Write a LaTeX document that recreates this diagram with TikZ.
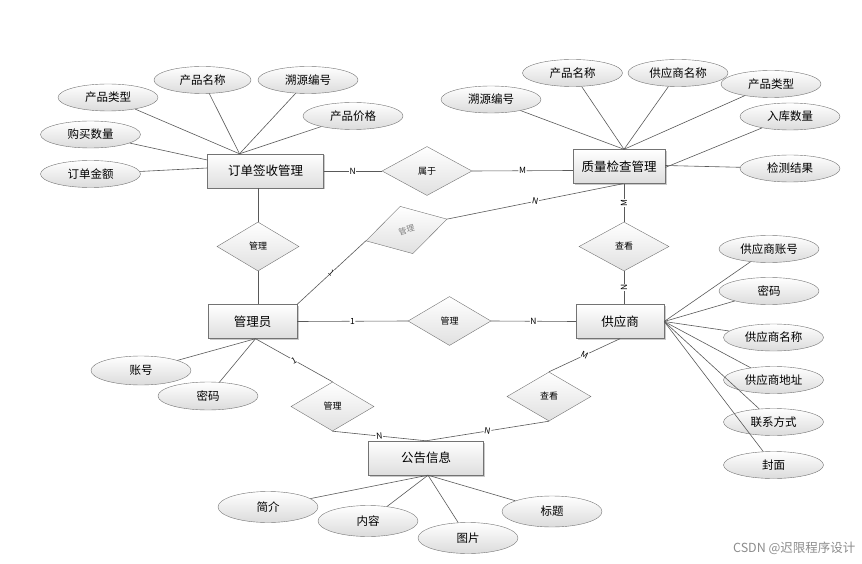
\documentclass[tikz,border=0pt]{standalone}
\usepackage{fontspec}
\setmainfont{Noto Sans CJK SC}
\usetikzlibrary{shapes.geometric,shadows,calc}

\tikzset{
  entity/.style={draw=black!55, top color=white, bottom color=black!13, minimum height=34pt, inner sep=0pt,
    font=\fontsize{12.5}{12.5}\selectfont, drop shadow={shadow xshift=1.5pt, shadow yshift=-1.5pt, fill=black!35, opacity=0.6}},
  attr/.style={ellipse, draw=black!55, top color=white, bottom color=black!14, minimum width=100pt, minimum height=27pt,
    inner sep=0pt, font=\fontsize{11.5}{11.5}\selectfont},
  rel/.style={diamond, draw=black!55, top color=white, bottom color=black!12, minimum width=84pt, minimum height=49pt,
    inner sep=0pt, font=\fontsize{9}{9}\selectfont},
  link/.style={draw=black!65, line width=0.6pt},
  card/.style={fill=white, inner sep=0.6pt, sloped, font=\fontsize{8.5}{8.5}\selectfont}
}

\begin{document}
\begin{tikzpicture}[x=1pt,y=1pt,yscale=-1,xscale=1]
\useasboundingbox (0,0) rectangle (862,564);

%Entities
\node[entity, minimum width=116pt] (order) at (265.5,171) {订单签收管理};
\node[entity, minimum width=92pt] (qc) at (619,166.5) {质量检查管理};
\node[entity, minimum width=89pt] (admin) at (252.5,321.5) {管理员};
\node[entity, minimum width=88pt] (sup) at (620,321.5) {供应商};
\node[entity, minimum width=115pt] (notice) at (426,458) {公告信息};

%Relationships
\node[rel, minimum width=90pt] (belong) at (427,171) {属于};
\node[rel, minimum width=82pt] (mgrOrder) at (258,246.5) {管理};
\node[rel, rotate=15, text=black!50, font=\fontsize{8}{8}\selectfont] (mgrQC) at (406.5,230) {管理};
\node[rel, minimum width=83pt] (mgrSup) at (449.5,321) {管理};
\node[rel, minimum width=90pt] (lookQC) at (624,246.5) {查看};
\node[rel] (lookNotice) at (549,396.5) {查看};
\node[rel, minimum width=83pt] (mgrNotice) at (332.5,406.5) {管理};

%Attributes of 订单签收管理
\node[attr] (oType) at (108,97.5) {产品类型};
\node[attr, minimum width=97pt] (oName) at (202.5,80) {产品名称};
\node[attr] (oTrace) at (308,80) {溯源编号};
\node[attr] (oPrice) at (353,116) {产品价格};
\node[attr] (oQty) at (90.5,134.5) {购买数量};
\node[attr] (oAmount) at (90.5,174) {订单金额};

%Attributes of 质量检查管理
\node[attr] (qTrace) at (491,99.5) {溯源编号};
\node[attr] (qName) at (572.5,73) {产品名称};
\node[attr] (qSupName) at (678,73) {供应商名称};
\node[attr] (qType) at (771,84) {产品类型};
\node[attr] (qIn) at (790,116.5) {入库数量};
\node[attr] (qResult) at (790,168.5) {检测结果};

%Attributes of 管理员
\node[attr, minimum height=29pt] (aAcc) at (141,370.5) {账号};
\node[attr, minimum height=28pt] (aPwd) at (208,396) {密码};

%Attributes of 供应商
\node[attr] (sAcc) at (769,249) {供应商账号};
\node[attr] (sPwd) at (769,291) {密码};
\node[attr] (sName) at (773.5,337.5) {供应商名称};
\node[attr] (sAddr) at (773.5,380) {供应商地址};
\node[attr] (sTel) at (773.5,422) {联系方式};
\node[attr] (sCover) at (773.5,465) {封面};

%Attributes of 公告信息
\node[attr, minimum height=31pt] (nIntro) at (268,507) {简介};
\node[attr, minimum height=31pt] (nText) at (368,521) {内容};
\node[attr, minimum height=31pt] (nPic) at (468,538) {图片};
\node[attr, minimum height=31pt] (nTitle) at (552,511.5) {标题};

%Attribute lines
\foreach \a in {oType,oName,oTrace,oPrice}
  \draw[link] (\a) -- ($(order.north)+(-26,0)$);
\draw[link] (oQty) -- ($(order.west)+(0,-11)$);
\draw[link] (oAmount) -- ($(order.west)+(0,-3)$);
\foreach \a in {qTrace,qName,qSupName,qType}
  \draw[link] (\a) -- ($(qc.north)+(5,0)$);
\draw[link] (qIn) -- ($(qc.east)+(0,1)$);
\draw[link] (qResult) -- ($(qc.east)+(0,-1)$);
\foreach \a in {aAcc,aPwd}
  \draw[link] (\a) -- ($(admin.south)+(3,0)$);
\foreach \a in {sAcc,sPwd,sName,sAddr,sTel,sCover}
  \draw[link] (\a) -- (sup.east);
\foreach \a in {nIntro,nText,nPic,nTitle}
  \draw[link] (\a) -- ($(notice.south)+(2,0)$);

%Relationship lines
\draw[link] (order.east) -- node[card] {N} (belong.west);
\draw[link] (belong.east) -- node[card] {M} ($(qc.west)+(0,4)$);
\draw[link] ($(order.south)+(-7.5,0)$) -- (mgrOrder.north);
\draw[link] (mgrOrder.south) -- ($(admin.north)+(5.5,0)$);
\draw[link] (admin.north east) -- node[card] {1} (mgrQC.west);
\draw[link] (mgrQC.east) -- node[card] {N} ($(qc.south)+(4,0)$);
\draw[link] ($(qc.south)+(5,0)$) -- node[card] {M} (lookQC.north);
\draw[link] (lookQC.south) -- node[card] {N} ($(sup.north)+(4,0)$);
\draw[link] (admin.east) -- node[card] {1} (mgrSup.west);
\draw[link] (mgrSup.east) -- node[card] {N} (sup.west);
\draw[link] (sup.south) -- node[card] {M} (lookNotice.north);
\draw[link] (lookNotice.south) -- node[card] {N} (notice.north);
\draw[link] ($(admin.south)+(3,0)$) -- node[card] {1} (mgrNotice.north);
\draw[link] (mgrNotice.south) -- node[card] {N} (notice.north);

% Text Node
\node[anchor=east, text=black!45, font=\fontsize{12.5}{12.5}\selectfont] (mark) at (859,548.5) {CSDN @迟限程序设计};
\end{tikzpicture}
\end{document}
